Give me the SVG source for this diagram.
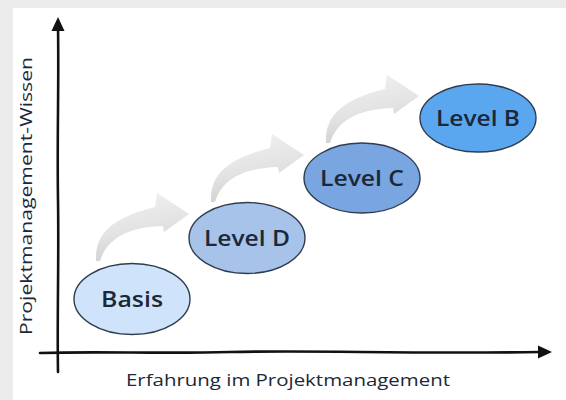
<svg xmlns="http://www.w3.org/2000/svg" width="566" height="400" viewBox="0 0 566 400">
  <defs>
    <linearGradient id="arrowGrad" x1="0" y1="0" x2="0.3" y2="1">
      <stop offset="0" stop-color="#f3f3f3"/>
      <stop offset="0.6" stop-color="#e3e3e3"/>
      <stop offset="1" stop-color="#d0d0d0"/>
    </linearGradient>
    <path id="stepArrow" d="M 96,261 C 95,238 106,219 155,207 L 157,193 L 189,214 L 164,232 L 163,226 C 127,227 107,239 100,261 Z"/>
  </defs>
  <style>
    .node ellipse { stroke: #2e3d4f; stroke-width: 1.4; }
    .label { font-family: "Open Sans", "Liberation Sans", sans-serif; font-weight: 600; font-size: 21px; fill: #1b2838; text-anchor: middle; }
    .axis-label { font-family: "Open Sans", "Liberation Sans", sans-serif; font-weight: 500; font-size: 17px; fill: #1b2838; text-anchor: middle; }
    .axis { fill: none; stroke: #111; stroke-width: 2.6; stroke-linecap: round; }
    .head { fill: #111; }
    .step { fill: url(#arrowGrad); }
  </style>
  <rect x="0" y="0" width="566" height="400" fill="#ebebeb"/>
  <rect x="13" y="8" width="553" height="392" fill="#ffffff"/>

  <g id="connectors">
    <use href="#stepArrow" class="step"/>
    <use href="#stepArrow" class="step" transform="translate(115,-59)"/>
    <use href="#stepArrow" class="step" transform="translate(230,-118)"/>
  </g>

  <g id="axes">
    <path class="axis" d="M 58,28 C 59,80 57,140 58,200 C 59,260 57,320 58,372"/>
    <polygon class="head" points="58,17 51.5,31 64.5,31"/>
    <path class="axis" d="M 40,353 C 100,351 160,354 230,352 C 320,350 400,354 540,352"/>
    <polygon class="head" points="552,352 538,345.5 538,358.5"/>
  </g>

  <g id="node-basis" class="node">
    <ellipse cx="132" cy="299" rx="58" ry="35.5" fill="#cfe4fa"/>
    <text class="label" x="132" y="307" textLength="62" lengthAdjust="spacingAndGlyphs">Basis</text>
  </g>
  <g id="node-level-d" class="node">
    <ellipse cx="247" cy="238" rx="58" ry="35.5" fill="#a7c3ea"/>
    <text class="label" x="247" y="246" textLength="86" lengthAdjust="spacingAndGlyphs">Level D</text>
  </g>
  <g id="node-level-c" class="node">
    <ellipse cx="362" cy="178" rx="58" ry="35" fill="#79a5e0"/>
    <text class="label" x="362" y="186" textLength="84" lengthAdjust="spacingAndGlyphs">Level C</text>
  </g>
  <g id="node-level-b" class="node">
    <ellipse cx="478" cy="118" rx="58" ry="34" fill="#5aa7f0"/>
    <text class="label" x="478" y="126" textLength="84" lengthAdjust="spacingAndGlyphs">Level B</text>
  </g>

  <g id="axis-labels">
    <text class="axis-label" x="288" y="386" textLength="324" lengthAdjust="spacingAndGlyphs">Erfahrung im Projektmanagement</text>
    <text class="axis-label" transform="translate(32,196) rotate(-90)" x="0" y="0" textLength="278" lengthAdjust="spacingAndGlyphs">Projektmanagement-Wissen</text>
  </g>
</svg>
